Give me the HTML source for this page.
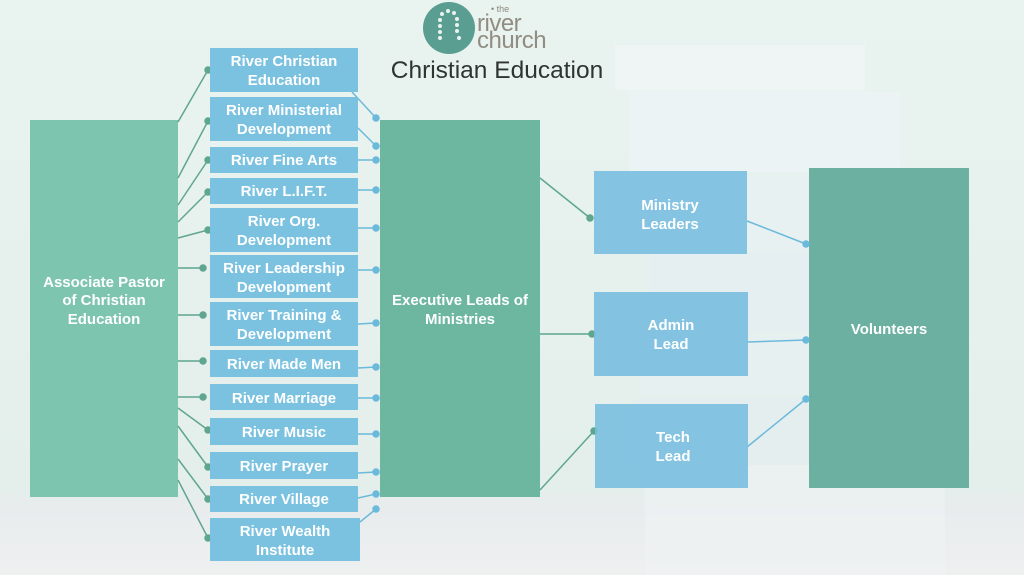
<!DOCTYPE html>
<html><head><meta charset="utf-8"><style>
html,body{margin:0;padding:0;width:1024px;height:575px;overflow:hidden;background:#e6f1ed}
svg{display:block}
text{font-family:"Liberation Sans",sans-serif}
</style></head><body>
<svg width="1024" height="575" viewBox="0 0 1024 575" xmlns="http://www.w3.org/2000/svg">
<defs>
<linearGradient id="bg" x1="0" y1="0" x2="0" y2="1">
<stop offset="0" stop-color="#e9f3ef"/><stop offset="0.85" stop-color="#e4efeb"/><stop offset="0.88" stop-color="#e8eced"/><stop offset="1" stop-color="#eef0f0"/>
</linearGradient>
</defs>
<rect width="1024" height="575" fill="url(#bg)"/>
<g opacity="0.7">
<rect x="615" y="45" width="250" height="45" fill="#f2f6f8"/>
<rect x="630" y="92" width="270" height="80" fill="#eef4f7"/>
<rect x="640" y="175" width="330" height="75" fill="#e9f1f5"/>
<rect x="650" y="252" width="320" height="80" fill="#e5eef2"/>
<rect x="640" y="335" width="330" height="60" fill="#e8f0f3"/>
<rect x="635" y="398" width="330" height="65" fill="#e6eef1"/>
<rect x="645" y="465" width="300" height="110" fill="#eef2f4"/>
</g>
<circle cx="449" cy="28" r="26" fill="#5a9e92"/>
<g fill="#e8f3f0">
<circle cx="442" cy="14" r="2"/><circle cx="448" cy="11" r="2"/><circle cx="454" cy="13" r="2"/><circle cx="440" cy="20" r="2"/><circle cx="440" cy="26" r="2"/><circle cx="440" cy="32" r="2"/><circle cx="440" cy="38" r="2"/><circle cx="457" cy="19" r="2"/><circle cx="457" cy="25" r="2"/><circle cx="457" cy="31" r="2"/><circle cx="459" cy="38" r="2"/>
</g>
<text x="491" y="12" font-size="9" fill="#8f8a80">• the</text>
<text x="477" y="31" font-size="24" fill="#928d82" letter-spacing="-0.5">river</text>
<text x="477" y="48" font-size="24" fill="#928d82" letter-spacing="-0.5">church</text>
<text x="497" y="78" font-size="24.5" fill="#2e3433" text-anchor="middle">Christian Education</text>

<rect x="30" y="120" width="148" height="377" fill="#7ec5b0"/>
<rect x="380" y="120" width="160" height="377" fill="#6db7a1"/>
<rect x="809" y="168" width="160" height="320" fill="#6cb0a2"/>

<g fill="#fff" font-weight="bold" text-anchor="middle" font-size="15">
<text x="104" y="287">Associate Pastor</text><text x="104" y="305">of Christian</text><text x="104" y="324">Education</text>
<text x="460" y="305">Executive Leads of</text><text x="460" y="324">Ministries</text>
<text x="889" y="334">Volunteers</text>
</g>

<g stroke="#5fa691" stroke-width="1.5" fill="#5fa691">
<line x1="178" y1="122" x2="208" y2="70"/><circle cx="208" cy="70" r="3"/>
<line x1="178" y1="178" x2="208" y2="121"/><circle cx="208" cy="121" r="3"/>
<line x1="178" y1="205" x2="208" y2="160"/><circle cx="208" cy="160" r="3"/>
<line x1="178" y1="222" x2="208" y2="192"/><circle cx="208" cy="192" r="3"/>
<line x1="178" y1="238" x2="208" y2="230"/><circle cx="208" cy="230" r="3"/>
<line x1="178" y1="268" x2="203" y2="268"/><circle cx="203" cy="268" r="3"/>
<line x1="178" y1="315" x2="203" y2="315"/><circle cx="203" cy="315" r="3"/>
<line x1="178" y1="361" x2="203" y2="361"/><circle cx="203" cy="361" r="3"/>
<line x1="178" y1="397" x2="203" y2="397"/><circle cx="203" cy="397" r="3"/>
<line x1="178" y1="408" x2="208" y2="430"/><circle cx="208" cy="430" r="3"/>
<line x1="178" y1="426" x2="208" y2="467"/><circle cx="208" cy="467" r="3"/>
<line x1="178" y1="459" x2="208" y2="499"/><circle cx="208" cy="499" r="3"/>
<line x1="178" y1="480" x2="208" y2="538"/><circle cx="208" cy="538" r="3"/>
<line x1="540" y1="178" x2="590" y2="218"/><circle cx="590" cy="218" r="3"/>
<line x1="540" y1="334" x2="592" y2="334"/><circle cx="592" cy="334" r="3"/>
<line x1="540" y1="490" x2="594" y2="431"/><circle cx="594" cy="431" r="3"/>
</g>
<g stroke="#6bbadc" stroke-width="1.5" fill="#6bbadc">
<line x1="352" y1="92" x2="376" y2="118"/><circle cx="376" cy="118" r="3"/>
<line x1="358" y1="128" x2="376" y2="146"/><circle cx="376" cy="146" r="3"/>
<line x1="358" y1="160" x2="376" y2="160"/><circle cx="376" cy="160" r="3"/>
<line x1="358" y1="190" x2="376" y2="190"/><circle cx="376" cy="190" r="3"/>
<line x1="358" y1="228" x2="376" y2="228"/><circle cx="376" cy="228" r="3"/>
<line x1="358" y1="270" x2="376" y2="270"/><circle cx="376" cy="270" r="3"/>
<line x1="358" y1="324" x2="376" y2="323"/><circle cx="376" cy="323" r="3"/>
<line x1="358" y1="368" x2="376" y2="367"/><circle cx="376" cy="367" r="3"/>
<line x1="358" y1="398" x2="376" y2="398"/><circle cx="376" cy="398" r="3"/>
<line x1="358" y1="434" x2="376" y2="434"/><circle cx="376" cy="434" r="3"/>
<line x1="358" y1="473" x2="376" y2="472"/><circle cx="376" cy="472" r="3"/>
<line x1="358" y1="498" x2="376" y2="494"/><circle cx="376" cy="494" r="3"/>
<line x1="360" y1="522" x2="376" y2="509"/><circle cx="376" cy="509" r="3"/>
<line x1="747" y1="221" x2="806" y2="244"/><circle cx="806" cy="244" r="3"/>
<line x1="747" y1="342" x2="806" y2="340"/><circle cx="806" cy="340" r="3"/>
<line x1="747" y1="447" x2="806" y2="399"/><circle cx="806" cy="399" r="3"/>
</g>

<g fill="#7bc2e1">
<rect x="210" y="48" width="148" height="44"/>
<rect x="210" y="97" width="148" height="44"/>
<rect x="210" y="147" width="148" height="26"/>
<rect x="210" y="178" width="148" height="26"/>
<rect x="210" y="208" width="148" height="44"/>
<rect x="210" y="255" width="148" height="43"/>
<rect x="210" y="302" width="148" height="44"/>
<rect x="210" y="350" width="148" height="27"/>
<rect x="210" y="384" width="148" height="26"/>
<rect x="210" y="418" width="148" height="27"/>
<rect x="210" y="452" width="148" height="27"/>
<rect x="210" y="486" width="148" height="26"/>
<rect x="210" y="518" width="150" height="43"/>
</g>
<g fill="#79bfe0" opacity="0.9">
<rect x="594" y="171" width="153" height="83"/>
<rect x="594" y="292" width="154" height="84"/>
<rect x="595" y="404" width="153" height="84"/>
</g>
<g fill="#fff" font-weight="bold" text-anchor="middle" font-size="15">
<text x="284" y="66">River Christian</text><text x="284" y="85">Education</text>
<text x="284" y="115">River Ministerial</text><text x="284" y="134">Development</text>
<text x="284" y="165">River Fine Arts</text>
<text x="284" y="196">River L.I.F.T.</text>
<text x="284" y="226">River Org.</text><text x="284" y="245">Development</text>
<text x="284" y="273">River Leadership</text><text x="284" y="292">Development</text>
<text x="284" y="320">River Training &amp;</text><text x="284" y="339">Development</text>
<text x="284" y="369">River Made Men</text>
<text x="284" y="403">River Marriage</text>
<text x="284" y="437">River Music</text>
<text x="284" y="471">River Prayer</text>
<text x="284" y="504">River Village</text>
<text x="285" y="536">River Wealth</text><text x="285" y="555">Institute</text>
<text x="670" y="210">Ministry</text><text x="670" y="229">Leaders</text>
<text x="671" y="330">Admin</text><text x="671" y="349">Lead</text>
<text x="673" y="442">Tech</text><text x="673" y="461">Lead</text>
</g>
</svg>
</body></html>
